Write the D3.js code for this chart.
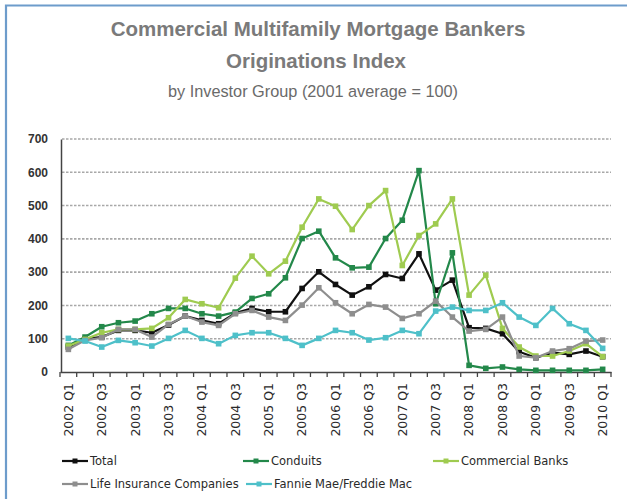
<!DOCTYPE html>
<html><head><meta charset="utf-8">
<script src="https://cdn.jsdelivr.net/npm/d3@7"></script>
<style>body{margin:0;background:#fff;}svg{display:block;}</style>
</head><body>
<svg id="c" width="627" height="499"></svg>
<script>
const quarters = [];
for (let y = 2002; y <= 2010; y++) for (let q = 1; q <= 4; q++) { if (y === 2010 && q > 1) break; quarters.push(y + " Q" + q); }
const tickLabels = quarters.filter((d, i) => i % 2 === 0);
const yTicks = [0, 100, 200, 300, 400, 500, 600, 700];

const totalVals     = [75, 100, 105, 125, 125, 118, 141, 168, 155, 145, 177, 191, 181, 181, 251, 301, 263, 231, 256, 293, 281, 355, 246, 276, 133, 131, 115, 61, 43, 58, 53, 63, 46];
const conduitVals   = [80, 105, 136, 148, 153, 175, 191, 191, 175, 168, 180, 221, 235, 283, 401, 423, 343, 313, 315, 401, 456, 605, 205, 358, 20, 11, 15, 8, 5, 5, 5, 5, 8];
const bankVals      = [78, 98, 118, 128, 128, 131, 163, 218, 205, 193, 282, 348, 295, 333, 435, 520, 498, 428, 500, 545, 320, 410, 445, 520, 231, 291, 131, 75, 48, 48, 63, 85, 46];
const lifeVals      = [68, 95, 103, 128, 128, 105, 143, 168, 150, 140, 175, 185, 165, 155, 201, 253, 208, 175, 203, 195, 161, 175, 213, 165, 123, 128, 165, 48, 43, 63, 70, 93, 96];
const fannieVals    = [101, 93, 75, 95, 88, 78, 101, 125, 101, 85, 110, 118, 118, 101, 80, 101, 125, 118, 96, 103, 125, 115, 183, 195, 185, 185, 208, 165, 140, 191, 145, 125, 71];

const seriesNames  = ["Total", "Conduits", "Commercial Banks", "Life Insurance Companies", "Fannie Mae/Freddie Mac"];
const seriesValues = [totalVals, conduitVals, bankVals, lifeVals, fannieVals];
const seriesColors = ["#111111", "#23884a", "#9fcb50", "#8e8e8e", "#4ec0c9"];

const svg = d3.select("#c");

// border
svg.append("path").attr("d", "M6,499 L6,5.5 L627,5.5").attr("fill", "none")
  .attr("stroke", "#6d9ccb").attr("stroke-width", 2.2);

// titles
svg.append("text").attr("x", 318).attr("y", 36).attr("text-anchor", "middle")
  .attr("font-family", "Liberation Sans, Arial, sans-serif").attr("font-weight", "bold")
  .attr("font-size", 20.5).attr("fill", "#7a7a7a").text("Commercial Multifamily Mortgage Bankers");
svg.append("text").attr("x", 316).attr("y", 68).attr("text-anchor", "middle")
  .attr("font-family", "Liberation Sans, Arial, sans-serif").attr("font-weight", "bold")
  .attr("font-size", 20.5).attr("fill", "#7a7a7a").text("Originations Index");
svg.append("text").attr("x", 313).attr("y", 97).attr("text-anchor", "middle")
  .attr("font-family", "Liberation Sans, Arial, sans-serif")
  .attr("font-size", 16.3).attr("fill", "#6a6a6a").text("by Investor Group (2001 average = 100)");

const x = d3.scaleBand().domain(quarters).range([60, 611]).padding(0);
const y = d3.scaleLinear().domain([0, 700]).range([372, 139]);
const cx = d => x(d) + x.bandwidth() / 2;

// gridlines
svg.append("g").selectAll("line").data(yTicks.filter(d => d > 0)).join("line")
  .attr("x1", 62).attr("x2", 611).attr("y1", d => y(d)).attr("y2", d => y(d))
  .attr("stroke", "#a8a8a8").attr("stroke-width", 1.6).attr("stroke-dasharray", "2.5,1.5");

// y axis
const yAxis = svg.append("g").attr("transform", "translate(61,0)")
  .call(d3.axisLeft(y).tickValues(yTicks).tickSize(0).tickPadding(13));
yAxis.select(".domain").attr("stroke", "#444").attr("stroke-width", 1.5);
yAxis.selectAll("text").attr("font-family", "Liberation Sans, Arial, sans-serif")
  .attr("font-weight", "bold").attr("font-size", 12).attr("fill", "#333");

// x axis
const xAxis = svg.append("g").attr("transform", "translate(0,372)")
  .call(d3.axisBottom(x).tickValues(tickLabels).tickSize(0).tickPadding(0));
xAxis.select(".domain").attr("stroke", "#444").attr("stroke-width", 1.5);
xAxis.selectAll("text").attr("font-family", "DejaVu Sans, sans-serif")
  .attr("font-size", 12.5).attr("fill", "#2a2a2a")
  .attr("transform", "rotate(-90)").attr("text-anchor", "end")
  .attr("x", -11).attr("y", 0).attr("dy", "0.35em");
// boundary ticks
svg.append("g").selectAll("line").data(d3.range(quarters.length + 1)).join("line")
  .attr("x1", i => 60 + i * x.step()).attr("x2", i => 60 + i * x.step())
  .attr("y1", 372).attr("y2", 377).attr("stroke", "#444").attr("stroke-width", 1.3);

// series
const line = d3.line().x((d, i) => cx(quarters[i])).y(d => y(d));
seriesValues.forEach((vals, s) => {
  const g = svg.append("g");
  g.append("path").datum(vals).attr("d", line).attr("fill", "none")
    .attr("stroke", seriesColors[s]).attr("stroke-width", 2.2).attr("stroke-linejoin", "round");
  g.selectAll("rect").data(vals).join("rect")
    .attr("x", (d, i) => cx(quarters[i]) - 2.8).attr("y", d => y(d) - 2.8)
    .attr("width", 5.6).attr("height", 5.6).attr("fill", seriesColors[s]);
});

// legend
const legendPos = [[62, 461], [243, 461], [433, 461], [62, 484], [246, 484]];
seriesNames.forEach((name, s) => {
  const [lx, ly] = legendPos[s];
  const g = svg.append("g").attr("transform", `translate(${lx},${ly})`);
  g.append("line").attr("x1", 0).attr("x2", 26).attr("y1", 0).attr("y2", 0)
    .attr("stroke", seriesColors[s]).attr("stroke-width", 2.2);
  g.append("rect").attr("x", 10.5).attr("y", -2.5).attr("width", 5).attr("height", 5).attr("fill", seriesColors[s]);
  g.append("text").attr("x", 28).attr("y", 0).attr("dy", "0.35em")
    .attr("font-family", "DejaVu Sans, sans-serif").attr("font-size", 11.5).attr("fill", "#2a2a2a").text(name);
});
</script>
</body></html>
